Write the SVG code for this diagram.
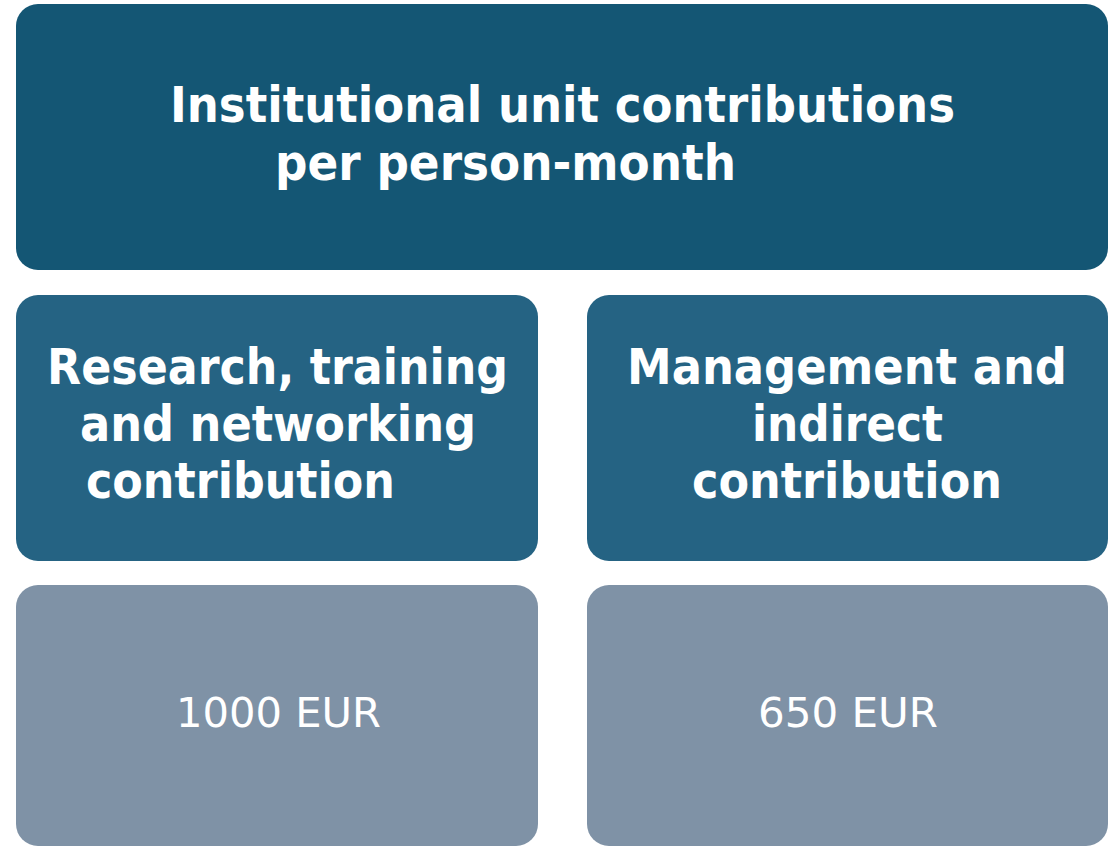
<svg xmlns="http://www.w3.org/2000/svg" width="1109" height="848" viewBox="0 0 1109 848">
<style>
.h{font-family:"DejaVu Sans","Verdana",sans-serif;font-weight:bold;fill:#fff;font-size:50px;text-anchor:middle}
.v{font-family:"DejaVu Sans","Verdana",sans-serif;fill:#fff;font-size:41px;text-anchor:middle}
</style>
<rect width="1109" height="848" fill="#fff"/>
<g id="top">
<rect x="16" y="4" width="1092" height="266" rx="22" fill="#145674"/>
<text class="h" x="562.5" y="122" textLength="785" lengthAdjust="spacingAndGlyphs">Institutional unit contributions</text>
<text class="h" x="505.5" y="180" textLength="461" lengthAdjust="spacingAndGlyphs">per person-month</text>
</g>
<g id="left-head">
<rect x="16" y="295" width="522" height="266" rx="22" fill="#256383"/>
<text class="h" x="277.5" y="384" textLength="461" lengthAdjust="spacingAndGlyphs">Research, training</text>
<text class="h" x="278" y="441" textLength="396" lengthAdjust="spacingAndGlyphs">and networking</text>
<text class="h" x="240.5" y="498" textLength="309" lengthAdjust="spacingAndGlyphs">contribution</text>
</g>
<g id="right-head">
<rect x="587" y="295" width="521" height="266" rx="22" fill="#256383"/>
<text class="h" transform="translate(847 384) scale(0.897 1)" x="0" y="0">Management and</text>
<text class="h" x="847.5" y="441" textLength="191" lengthAdjust="spacingAndGlyphs">indirect</text>
<text class="h" x="847" y="498" textLength="310" lengthAdjust="spacingAndGlyphs">contribution</text>
</g>
<g id="left-value">
<rect x="16" y="585" width="522" height="261" rx="22" fill="#7f92a6"/>
<text class="v" x="278.5" y="727" textLength="205" lengthAdjust="spacingAndGlyphs">1000 EUR</text>
</g>
<g id="right-value">
<rect x="587" y="585" width="521" height="261" rx="22" fill="#7f92a6"/>
<text class="v" x="848" y="727" textLength="180" lengthAdjust="spacingAndGlyphs">650 EUR</text>
</g>
<g id="connectors"/>
</svg>
